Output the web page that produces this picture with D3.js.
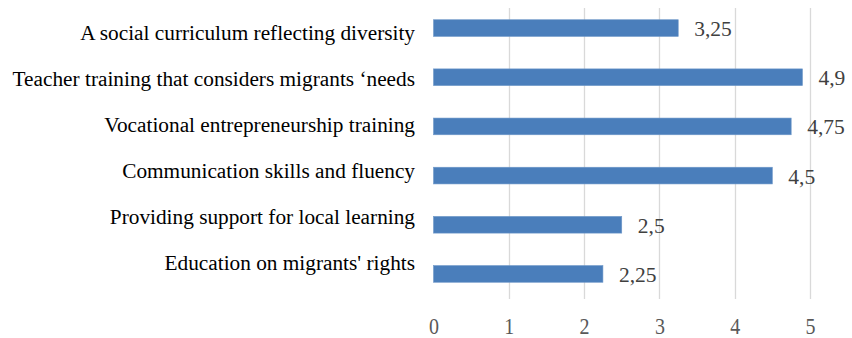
<!DOCTYPE html>
<html>
<head>
<meta charset="utf-8">
<script src="https://cdn.jsdelivr.net/npm/d3@7"></script>
<style>
  body { margin: 0; background: #fff; }
  svg { display: block; }
</style>
</head>
<body>
<div id="chart"></div>
<script>
// chart data
const categories = [
    "A social curriculum reflecting diversity",
    "Teacher training that considers migrants \u2018needs",
    "Vocational entrepreneurship training",
    "Communication skills and fluency",
    "Providing support for local learning",
    "Education on migrants' rights"
];
const values = [3.25, 4.9, 4.75, 4.5, 2.5, 2.25];
const valueLabels = ["3,25", "4,9", "4,75", "4,5", "2,5", "2,25"];
const ticks = [0, 1, 2, 3, 4, 5];

const width = 852, height = 338;
const serif = "'Liberation Serif', 'Times New Roman', serif";

const svg = d3.select("#chart")
    .append("svg")
    .attr("width", width)
    .attr("height", height);

const x = d3.scaleLinear()
    .domain([0, 5])
    .range([433.5, 810]);

const y = d3.scaleBand()
    .domain(categories)
    .range([3.5, 298.5])
    .paddingInner(0.66)
    .paddingOuter(0.33);

// the category labels sit on a slightly tighter spacing than the bars
const yLabel = d3.scalePoint()
    .domain(categories)
    .range([40, 269.5]);

// gridlines (no line at zero)
svg.append("g")
    .selectAll("line")
    .data(ticks.filter(t => t > 0))
    .enter()
    .append("line")
    .attr("x1", d => Math.round(x(d)) + 0.5)
    .attr("x2", d => Math.round(x(d)) + 0.5)
    .attr("y1", 8)
    .attr("y2", 299)
    .attr("stroke", "#d9d9d9")
    .attr("stroke-width", 1.3);

// bars
svg.append("g")
    .selectAll("rect")
    .data(values)
    .enter()
    .append("rect")
    .attr("x", x(0))
    .attr("y", (d, i) => y(categories[i]))
    .attr("width", d => x(d) - x(0))
    .attr("height", y.bandwidth())
    .attr("fill", "#4a7ebb")
    .attr("stroke", "#6f98c9")
    .attr("stroke-width", 0.6);

// value labels
svg.append("g")
    .selectAll("text")
    .data(values)
    .enter()
    .append("text")
    .attr("x", d => x(d) + 16)
    .attr("y", (d, i) => y(categories[i]) + y.bandwidth() / 2 + 8)
    .style("font-family", serif)
    .style("font-size", "21.5px")
    .attr("fill", "#404040")
    .text((d, i) => valueLabels[i]);

// category labels
svg.append("g")
    .selectAll("text")
    .data(categories)
    .enter()
    .append("text")
    .attr("x", 415)
    .attr("y", d => yLabel(d))
    .attr("text-anchor", "end")
    .style("font-family", serif)
    .style("font-size", "21.3px")
    .attr("fill", "#000")
    .text(d => d);

// x axis tick labels
const xAxis = svg.append("g")
    .attr("transform", "translate(0,300)")
    .call(d3.axisBottom(x).tickValues(ticks).tickSize(0).tickPadding(0).tickFormat(d3.format("d")));

xAxis.select(".domain").remove();
xAxis.selectAll("text")
    .attr("y", 0)
    .attr("dy", 0)
    .attr("transform", "translate(0,34) scale(1,1.18)")
    .style("font-family", serif)
    .style("font-size", "20px")
    .attr("fill", "#595959");
</script>
</body>
</html>
